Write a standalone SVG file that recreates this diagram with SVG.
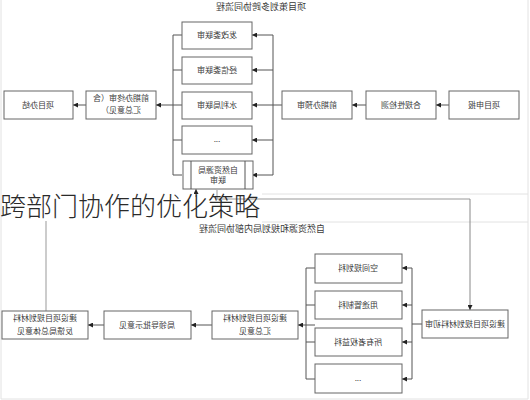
<svg xmlns="http://www.w3.org/2000/svg" width="530" height="400" viewBox="0 0 530 400">
<defs>
<marker id="ah" viewBox="0 0 6 6" refX="6" refY="3" markerWidth="5" markerHeight="5" markerUnits="userSpaceOnUse" orient="auto"><path d="M0,0 L6,3 L0,6 z" fill="#222"/></marker>
</defs>
<style>
.box{fill:#fff;stroke:#666;stroke-width:1}
.t{font-family:"Noto Sans CJK SC","Liberation Sans",sans-serif;font-size:8px;fill:#3a3a3a;text-anchor:middle}
.tt{font-family:"Noto Sans CJK SC","Liberation Sans",sans-serif;font-size:9px;fill:#3a3a3a;text-anchor:middle}
.ln{fill:none;stroke:#555;stroke-width:1}
.lg{fill:none;stroke:#999;stroke-width:1}
.ar{fill:none;stroke:#555;stroke-width:1;marker-end:url(#ah)}
.faint{fill:none;stroke:#e2e2e2;stroke-width:1}
.h{font-family:"Noto Sans CJK SC","Liberation Sans",sans-serif;font-size:26px;fill:#2a2a2a;font-weight:300}
</style>
<rect width="530" height="400" fill="#fff"/>
<g id="frame">
<path class="faint" d="M1,0 V399 H528 V0"/>
<path class="faint" d="M262,194 H528 M262,222 H528"/>
</g>
<g id="titles">
<text class="tt" transform="translate(261,10) scale(-1,1)">项目策划多跨协同流程</text>
<text class="tt" transform="translate(262,232) scale(-1,1)">自然资源和规划局内部协同流程</text>
</g>
<g id="connectors">
<path class="ar" d="M449,105 H436"/>
<path class="ar" d="M366,105 H352"/>
<path class="ln" d="M282,105 H273 M273,35 V175"/>
<path class="ar" d="M273,35 H252"/>
<path class="ar" d="M273,70 H252"/>
<path class="ar" d="M273,105 H252"/>
<path class="ar" d="M273,140 H252"/>
<path class="ar" d="M273,175 H252"/>
<path class="ln" d="M182,35 H173 M182,70 H173 M182,140 H173 M182,175 H173 M173,35 V175"/>
<path class="ar" d="M182,105 H156"/>
<path class="ar" d="M86,105 H73"/>
<path class="lg" d="M217,190 V199 H470"/>
<path class="ar" style="stroke:#888" d="M470,199 V310"/>
<path class="ar" style="stroke:#888" d="M196,197 V189"/>
<path class="lg" d="M46,221 V311"/>
<path class="ln" d="M422,324 H412 M412,268 V379"/>
<path class="ar" d="M412,268 H402"/>
<path class="ar" d="M412,305 H402"/>
<path class="ar" d="M412,342 H402"/>
<path class="ar" d="M412,379 H402"/>
<path class="ln" d="M315,268 H306 M315,305 H306 M315,342 H306 M315,379 H306 M306,268 V379"/>
<path class="ar" d="M315,325 H298"/>
<path class="ar" d="M212,325 H191"/>
<path class="ar" d="M104,325 H88"/>
</g>
<g id="n_shenbao"><rect class="box" x="449" y="91" width="70" height="28"/><text class="t" transform="translate(484,108) scale(-1,1)">项目申报</text></g>
<g id="n_hegui"><rect class="box" x="366" y="91" width="70" height="28"/><text class="t" transform="translate(401,108) scale(-1,1)">合规性检测</text></g>
<g id="n_yushen"><rect class="box" x="282" y="91" width="70" height="28"/><text class="t" transform="translate(317,108) scale(-1,1)">前期办预审</text></g>
<g id="n_fagai"><rect class="box" x="182" y="22" width="70" height="27"/><text class="t" transform="translate(217,38) scale(-1,1)">发改委联审</text></g>
<g id="n_jingxin"><rect class="box" x="182" y="57" width="70" height="27"/><text class="t" transform="translate(217,73) scale(-1,1)">经信委联审</text></g>
<g id="n_shuili"><rect class="box" x="182" y="92" width="70" height="27"/><text class="t" transform="translate(217,108) scale(-1,1)">水利局联审</text></g>
<g id="n_more1"><rect class="box" x="182" y="126" width="70" height="28"/><text class="t" transform="translate(217,142) scale(-1,1)">...</text></g>
<g id="n_ziran"><rect class="box" x="183" y="161" width="70" height="28"/><path class="ln" d="M191,161 V189 M245,161 V189"/><text class="t" transform="translate(218,173) scale(-1,1)">自然资源局</text><text class="t" transform="translate(218,183) scale(-1,1)">联审</text></g>
<g id="n_zhongshen"><rect class="box" x="86" y="91" width="70" height="28"/><text class="t" transform="translate(121,101) scale(-1,1)">前期办终审（含</text><text class="t" transform="translate(121,113) scale(-1,1)">汇总意见）</text></g>
<g id="n_banjie"><rect class="box" x="4" y="91" width="69" height="28"/><text class="t" transform="translate(38,108) scale(-1,1)">项目办结</text></g>
<g id="n_chushen"><rect class="box" x="422" y="310" width="86" height="28"/><text class="t" transform="translate(465,327) scale(-1,1)">建设项目规划材料初审</text></g>
<g id="n_kongjian"><rect class="box" x="315" y="254" width="87" height="29"/><text class="t" transform="translate(358,271) scale(-1,1)">空间规划科</text></g>
<g id="n_yongtu"><rect class="box" x="315" y="291" width="87" height="28"/><text class="t" transform="translate(358,308) scale(-1,1)">用途管制科</text></g>
<g id="n_suoyou"><rect class="box" x="315" y="328" width="87" height="28"/><text class="t" transform="translate(358,345) scale(-1,1)">所有者权益科</text></g>
<g id="n_more2"><rect class="box" x="315" y="364" width="87" height="29"/><text class="t" transform="translate(358,381) scale(-1,1)">...</text></g>
<g id="n_huizong"><rect class="box" x="212" y="311" width="86" height="28"/><text class="t" transform="translate(255,321) scale(-1,1)">建设项目规划材料</text><text class="t" transform="translate(255,334) scale(-1,1)">汇总意见</text></g>
<g id="n_pishi"><rect class="box" x="104" y="311" width="87" height="28"/><text class="t" transform="translate(147,328) scale(-1,1)">局领导批示意见</text></g>
<g id="n_fankui"><rect class="box" x="2" y="311" width="86" height="28"/><text class="t" transform="translate(45,321) scale(-1,1)">建设项目规划材料</text><text class="t" transform="translate(45,334) scale(-1,1)">反馈局总体意见</text></g>
<g id="heading"><text class="h" x="0" y="216">跨部门协作的优化策略</text></g>
</svg>
